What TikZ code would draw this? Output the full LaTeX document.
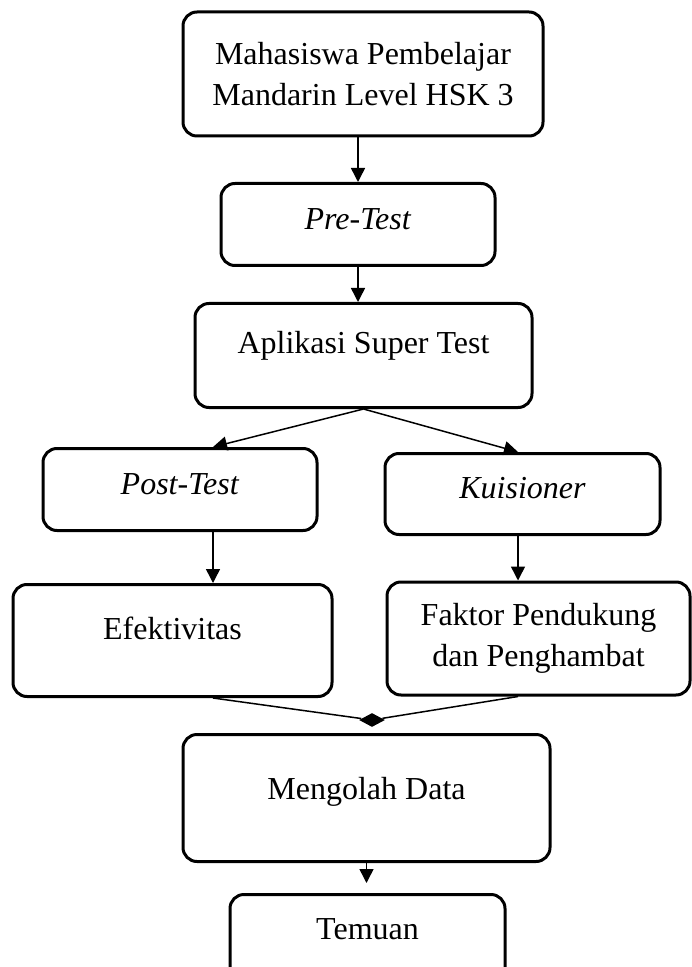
\documentclass[tikz,border=0pt]{standalone}
\usepackage{fontspec}
\setmainfont{Liberation Serif}
\usetikzlibrary{arrows.meta,shapes.geometric}

\begin{document}
\begin{tikzpicture}[x=0.5pt,y=-0.5pt,
  box/.style={draw, line width=1.5pt, rounded corners=7pt, inner sep=0pt, align=center, font=\fontsize{16}{20.5}\selectfont},
  link/.style={line width=0.75pt},
  arr/.style={link, -{Triangle[width=7pt,length=7pt]}}]
\useasboundingbox (0,0) rectangle (691,967);
\coordinate (lcol) at (213,0);
\coordinate (rcol) at (518,0);
\node[box, minimum width=180pt, minimum height=62pt] (mhs) at (363,74) {Mahasiswa Pembelajar\\Mandarin Level HSK 3};
\node[box, anchor=north, minimum width=137pt, text height=23pt, text depth=18pt] (pre) at (358,182) {\textit{Pre-Test}};
\node[box, anchor=north, minimum width=168.5pt, text height=25pt, text depth=27pt] (apl) at (363.5,302) {Aplikasi Super Test};
\node[box, anchor=north, minimum width=137pt, text height=23pt, text depth=18pt] (post) at (180,447) {\textit{Post-Test}};
\node[box, anchor=north, minimum width=137.5pt, text height=22.5pt, text depth=18pt] (kui) at (522.5,452) {\textit{Kuisioner}};
\node[box, anchor=north, minimum width=159.5pt, text height=27.5pt, text depth=28.5pt] (efek) at (172.5,583) {Efektivitas};
\node[box, minimum width=151.5pt, minimum height=56.5pt] (fak) at (538.5,638.5) {Faktor Pendukung\\dan Penghambat};
\node[box, anchor=north, minimum width=183.5pt, text height=32.5pt, text depth=31pt] (mgl) at (366.5,733) {Mengolah Data};
\node[box, anchor=north, minimum width=137.5pt, text height=22.5pt, text depth=30pt] (tem) at (367.5,893) {Temuan};
\node[diamond, fill, inner sep=0pt, minimum width=13pt, minimum height=7pt] (joint) at (372,720) {};
% arrows
\draw[arr] (mhs.south -| pre.north) -- (pre.north);
\draw[arr] (pre.south) -- (pre.south |- apl.north);
\draw[arr] (apl.south) -- (post.north -| lcol);
\draw[arr] (apl.south) -- (kui.north -| rcol);
\draw[arr] (post.south -| lcol) -- (efek.north -| lcol);
\draw[arr] (kui.south -| rcol) -- (fak.north -| rcol);
\draw[link] (efek.south -| lcol) -- (joint);
\draw[link] (fak.south -| rcol) -- (joint);
\draw[arr, shorten >=5pt] (mgl.south) -- (mgl.south |- tem.north);
\end{tikzpicture}
\end{document}
